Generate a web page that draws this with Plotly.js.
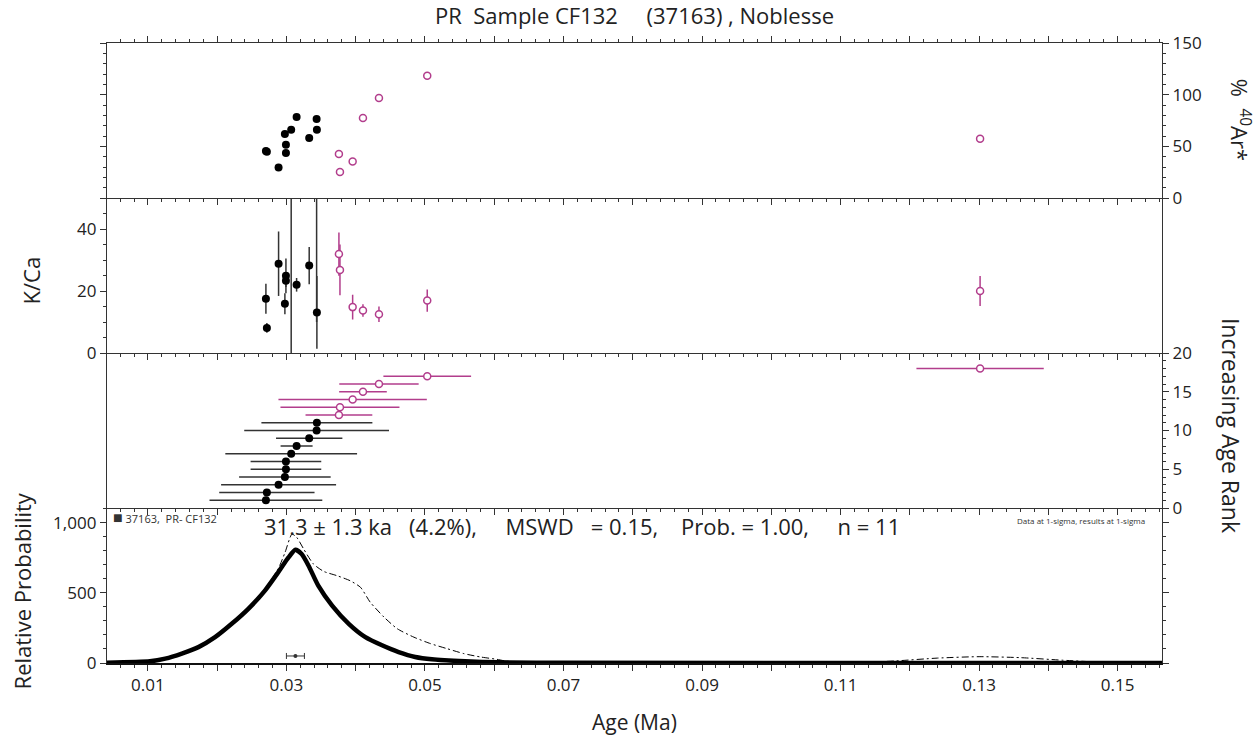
<!DOCTYPE html>
<html><head><meta charset="utf-8">
<script src="https://cdn.plot.ly/plotly-3.0.1.min.js"></script>
<style>html,body{margin:0;padding:0;background:#fff}#chart{width:1259px;height:737px}</style>
</head><body><div id="chart"></div>
<script>
// ---------- data ----------
// included steps (black)
const incAge    = [0.02704,0.02718,0.02887,0.02978,0.02993,0.02993,0.03069,0.03147,0.03329,0.03436,0.03440];
const incAgeErr = [0.00814,0.00688,0.00830,0.00661,0.00510,0.00510,0.00951,0.00231,0.00479,0.01045,0.00801];
const incRank   = [1,2,3,4,5,6,7,8,9,10,11];
const incArPct  = [45.5,44.8,29.6,61.9,51.6,43.5,66.1,78.4,58.1,76.5,66.1];
const incKCa    = [17.5,8.1,28.8,15.9,24.9,23.3,62,22.0,28.2,60,13.1];
const incKCaErr = [4.8,1.6,10.4,3.4,5.6,2.0,62,2.2,6.0,50,11.7];
// excluded steps (magenta)
const excAge    = [0.03758,0.03773,0.03956,0.04105,0.04336,0.05033,0.13014];
const excAgeErr = [0.00482,0.00859,0.01071,0.00344,0.00573,0.00633,0.00919];
const excRank   = [12,13,14,15,16,17,18];
const excArPct  = [42.6,25.2,35.4,77.4,96.8,118.4,57.4];
const excKCa    = [31.9,26.8,14.8,13.7,12.5,16.9,20.0];
const excKCaErr = [7.0,8.2,4.0,2.0,2.5,3.6,4.8];
const probAgeIncl = [0.0041,0.0103,0.0125,0.0149,0.0173,0.0197,0.0221,0.0245,0.0269,0.0288,0.0303,0.0313,0.0322,0.0332,0.0346,0.0366,0.0390,0.0414,0.0438,0.0462,0.0486,0.0510,0.0558,0.0606,0.0700,0.1564];
const probIncl    = [2,12,31,67,113,184,279,386,516,645,752,806,776,693,551,409,279,184,126,78,43,26,12,5,1,0];
const probAgeAll  = [0.0041,0.0103,0.0125,0.0149,0.0173,0.0197,0.0221,0.0245,0.0269,0.0288,0.0298,0.0308,0.0315,0.0325,0.0339,0.0354,0.0373,0.0392,0.0407,0.0421,0.0441,0.0460,0.0484,0.0508,0.0532,0.0556,0.0580,0.0604,0.0619,0.0660,0.1000,0.1120,0.1180,0.1240,0.1300,0.1360,0.1420,0.1480,0.1564];
const probAll     = [2,12,32,68,115,188,285,395,530,670,787,918,894,811,705,652,622,586,539,433,326,244,184,138,102,67,43,26,12,3,0,2,15,35,45,38,20,5,0];
// weighted mean
const meanAge = [0.0313];
const meanErr = [0.0013];
const meanMarkProb = [50];

// ---------- styles ----------
const BLK = '#000000', MAG = '#b23d8c', AX = '#333333';
const F = '"Open Sans", "Noto Sans", sans-serif';
const S = n => '\u00a0'.repeat(n);

const incMarker = {color: BLK, size: 8};
const excMarker = {color: '#ffffff', size: 7, line: {color: MAG, width: 1.5}};

const traces = [
  {x: probAgeAll, y: probAll, xaxis:'x', yaxis:'y', mode:'lines', line:{color:BLK, width:1, dash:'7px,3px,2px,3px', shape:'spline', smoothing:0.6}, hoverinfo:'skip'},
  {x: probAgeIncl, y: probIncl, xaxis:'x', yaxis:'y', mode:'lines', line:{color:BLK, width:4.5, shape:'spline', smoothing:0.6}, hoverinfo:'skip'},
  {x: meanAge, y: meanMarkProb, xaxis:'x', yaxis:'y', mode:'markers', marker:{color:'#333', size:4},
   error_x:{type:'data', array: meanErr, color:'#333', thickness:1, width:3}},
  {x: incAge, y: incRank, xaxis:'x2', yaxis:'y2', mode:'markers', marker: incMarker,
   error_x:{type:'data', array: incAgeErr, color:'#333', thickness:1.5, width:0}},
  {x: excAge, y: excRank, xaxis:'x2', yaxis:'y2', mode:'markers', marker: excMarker,
   error_x:{type:'data', array: excAgeErr, color: MAG, thickness:1.5, width:0}},
  {x: incAge, y: incKCa, xaxis:'x3', yaxis:'y3', mode:'markers', marker: incMarker,
   error_y:{type:'data', array: incKCaErr, color:'#333', thickness:1.5, width:0}},
  {x: excAge, y: excKCa, xaxis:'x3', yaxis:'y3', mode:'markers', marker: excMarker,
   error_y:{type:'data', array: excKCaErr, color: MAG, thickness:1.5, width:0}},
  {x: incAge, y: incArPct, xaxis:'x4', yaxis:'y4', mode:'markers', marker: incMarker},
  {x: excAge, y: excArPct, xaxis:'x4', yaxis:'y4', mode:'markers', marker: excMarker}
];

const xr = [0.0041, 0.1564];
function xax(extra){
  return Object.assign({range: xr, showgrid:false, zeroline:false, showline:true, linecolor:AX, linewidth:1.2,
    tickmode:'linear', tick0:0.01, dtick:0.01, ticklabelstep:2, tickformat:'.2f',
    ticks:'outside', ticklen:6, tickcolor:AX, tickwidth:1,
    minor:{dtick:0.002, tick0:0, ticks:'outside', ticklen:3, tickcolor:AX, tickwidth:1},
    showticklabels:false, tickfont:{size:17, family:F, color:'#222'}}, extra);
}
function yax(extra){
  return Object.assign({showgrid:false, zeroline:false, showline:true, linecolor:AX, linewidth:1.2,
    ticks:'outside', ticklen:6, tickcolor:AX, tickwidth:1, tickfont:{size:17, family:F, color:'#222'}}, extra);
}
const tf = {size:22, family:F, color:'#222'};

const statText = '31.3 \u00b1 1.3 ka' + S(3) + '(4.2%),' + S(5) + 'MSWD' + S(3) + '= 0.15,' + S(4) + 'Prob. = 1.00,' + S(5) + 'n = 11';

const layout = {
  width:1259, height:737, margin:{l:107, r:97, t:43, b:74}, showlegend:false,
  paper_bgcolor:'#fff', plot_bgcolor:'#fff', font:{family:F, color:'#222'},
  title:{text:'PR' + S(2) + 'Sample CF132' + S(5) + '(37163) , Noblesse', font:tf,
         x:0.5, xref:'paper', y:1-16/737, yref:'container', yanchor:'middle'},
  xaxis: xax({anchor:'y', showticklabels:true, linewidth:2, linecolor:'#111'}),
  xaxis2: xax({anchor:'y2', matches:'x'}),
  xaxis3: xax({anchor:'y3', matches:'x'}),
  xaxis4: xax({anchor:'y4', matches:'x', mirror:'ticks'}),
  yaxis: yax({domain:[0,0.25], range:[0,1104], dtick:500, tickformat:',', mirror:'ticks',
              minor:{dtick:100, ticks:'outside', ticklen:3, tickcolor:AX}}),
  yaxis2: yax({domain:[0.25,0.5], range:[0,20], dtick:5, side:'right', mirror:true,
              minor:{dtick:1, ticks:'outside', ticklen:3, tickcolor:AX}}),
  yaxis3: yax({domain:[0.5,0.75], range:[0,50], dtick:20, mirror:true,
              minor:{dtick:5, ticks:'outside', ticklen:3, tickcolor:AX}}),
  yaxis4: yax({domain:[0.75,1], range:[0,150], dtick:50, side:'right', mirror:'ticks',
              minor:{dtick:10, ticks:'outside', ticklen:3, tickcolor:AX}}),
  annotations: [
    {text:'Age (Ma)', xref:'paper', yref:'paper', x:0.5, y:-0.095, xanchor:'center', yanchor:'middle', showarrow:false, font:{size:21, family:F, color:'#222'}},
    {text:'Relative Probability', xref:'paper', yref:'paper', x:-0.0806, y:0.117, xanchor:'center', yanchor:'middle', textangle:-90, showarrow:false, font:tf},
    {text:'K/Ca', xref:'paper', yref:'paper', x:-0.072, y:0.617, xanchor:'center', yanchor:'middle', textangle:-90, showarrow:false, font:tf},
    {text:'%' + S(2) + '<sup>40</sup>Ar*', xref:'paper', yref:'paper', x:1.074, y:0.876, xanchor:'center', yanchor:'middle', textangle:90, showarrow:false, font:tf},
    {text:'Increasing Age Rank', xref:'paper', yref:'paper', x:1.066, y:0.383, xanchor:'center', yanchor:'middle', textangle:90, showarrow:false, font:{size:23, family:F, color:'#222'}},
    {text: statText, xref:'paper', yref:'paper', x:0.450, y:0.221, xanchor:'center', yanchor:'middle', showarrow:false, font:tf},
    {text:'<span style="font-size:16px">\u25a0</span> 37163,' + S(2) + 'PR- CF132', xref:'paper', yref:'paper', x:0.004, y:0.235, xanchor:'left', yanchor:'middle', showarrow:false, font:{size:11, family:F, color:'#333'}},
    {text:'Data at 1-sigma, results at 1-sigma', xref:'paper', yref:'paper', x:0.986, y:0.230, xanchor:'right', yanchor:'middle', showarrow:false, font:{size:8, family:F, color:'#333'}}
  ]
};

Plotly.newPlot('chart', traces, layout, {displayModeBar:false, staticPlot:true});
</script></body></html>
